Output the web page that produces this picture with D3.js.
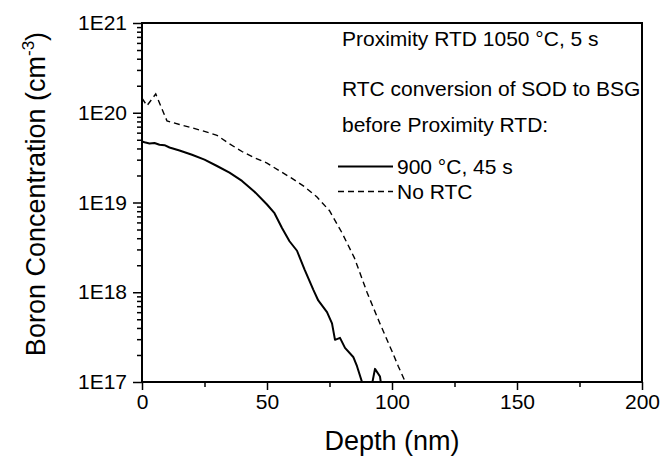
<!DOCTYPE html>
<html>
<head>
<meta charset="utf-8">
<script src="https://cdn.jsdelivr.net/npm/d3@7"></script>
<style>
  body { margin: 0; background: #fff; }
  text { font-family: "Liberation Sans", Arial, sans-serif; fill: #000; }
</style>
</head>
<body>
<div id="chart"></div>
<script>
// boron profiles after proximity RTD
const depthNoRTC = [0, 2, 5.5, 10, 15, 20, 25, 30, 35, 40, 45, 50, 55, 60, 65, 70, 75, 80, 85, 90, 95, 100, 102.5, 105, 106];
const concNoRTC = [1.45e20, 1.2e20, 1.62e20, 8.1e19, 7.4e19, 6.8e19, 6.2e19, 5.6e19, 4.5e19, 3.7e19, 3.15e19, 2.75e19, 2.25e19, 1.86e19, 1.5e19, 1.15e19, 8.1e18, 4.6e18, 2.4e18, 1.0e18, 4.6e17, 2.2e17, 1.5e17, 1.05e17, 9e16];

const depth900 = [0, 1, 3, 5, 7, 9, 11, 15, 20, 25, 30, 35, 40, 45, 50, 53, 56, 59, 62, 65, 68.5, 70.5, 74, 76, 77.2, 79.2, 81.2, 84.5, 86, 88, 89, 91.5, 93.2, 95.2, 96, 97];
const conc900 = [4.8e19, 4.7e19, 4.55e19, 4.6e19, 4.4e19, 4.35e19, 4.1e19, 3.8e19, 3.4e19, 3.0e19, 2.55e19, 2.15e19, 1.74e19, 1.32e19, 9.5e18, 7.6e18, 5.2e18, 3.7e18, 2.9e18, 1.8e18, 1.07e18, 8.1e17, 6.0e17, 4.5e17, 2.95e17, 3.1e17, 2.4e17, 1.9e17, 1.5e17, 1.0e17, 8e16, 8e16, 1.4e17, 1.15e17, 8e16, 8e16];

const xTicks = [0, 50, 100, 150, 200];
const xMinorTicks = [25, 75, 125, 175];
const yTicks = [1e17, 1e18, 1e19, 1e20, 1e21];

const width = 662,
  height = 457,
  plotLeft = 142, plotRight = 642, plotTop = 23, plotBottom = 382;

const svg = d3.select("#chart").append("svg")
  .attr("width", width)
  .attr("height", height);

const x = d3.scaleLinear().domain([0, 200]).range([plotLeft, plotRight]);
const y = d3.scaleLog().domain([1e17, 1e21]).range([plotBottom, plotTop]);

// minor log ticks 2..9 in every decade
const yMinorTicks = [];
yTicks.slice(0, -1).forEach(function (t) {
  for (let k = 2; k <= 9; k++) yMinorTicks.push(t * k);
});

svg.append("clipPath").attr("id", "plotclip")
  .append("rect")
  .attr("x", plotLeft).attr("y", plotTop)
  .attr("width", plotRight - plotLeft).attr("height", plotBottom - plotTop);

const line = d3.line()
  .x(d => x(d[0]))
  .y(d => y(d[1]));

const plot = svg.append("g").attr("clip-path", "url(#plotclip)");

plot.append("path")
  .datum(depthNoRTC.map((d, i) => [d, concNoRTC[i]]))
  .attr("d", line)
  .attr("fill", "none")
  .attr("stroke", "#000")
  .attr("stroke-width", 1.4)
  .attr("stroke-dasharray", "6,4");

plot.append("path")
  .datum(depth900.map((d, i) => [d, conc900[i]]))
  .attr("d", line)
  .attr("fill", "none")
  .attr("stroke", "#000")
  .attr("stroke-width", 2)
  .attr("stroke-linejoin", "round");

// frame
svg.append("rect")
  .attr("x", plotLeft).attr("y", plotTop)
  .attr("width", plotRight - plotLeft).attr("height", plotBottom - plotTop)
  .attr("fill", "none")
  .attr("stroke", "#000")
  .attr("stroke-width", 2);

// axes
svg.append("g")
  .attr("transform", `translate(0,${plotBottom})`)
  .call(d3.axisBottom(x).tickValues(xTicks).tickSize(8).tickPadding(4));
svg.append("g")
  .attr("transform", `translate(0,${plotBottom})`)
  .call(d3.axisBottom(x).tickValues(xMinorTicks).tickSize(5).tickFormat(""));

svg.append("g")
  .attr("transform", `translate(${plotLeft},0)`)
  .call(d3.axisLeft(y).tickValues(yTicks).tickSize(9).tickPadding(6)
    .tickFormat(d => "1E" + Math.round(Math.log10(d))));
svg.append("g")
  .attr("transform", `translate(${plotLeft},0)`)
  .call(d3.axisLeft(y).tickValues(yMinorTicks).tickSize(5).tickFormat(""));

svg.selectAll(".domain").remove();
svg.selectAll(".tick line").attr("stroke", "#000").attr("stroke-width", 1.5);
svg.selectAll(".tick text")
  .style("font-family", '"Liberation Sans", Arial, sans-serif')
  .style("font-size", "21px")
  .attr("fill", "#000");

// axis titles
svg.append("text")
  .attr("x", (plotLeft + plotRight) / 2).attr("y", 450)
  .attr("text-anchor", "middle")
  .style("font-size", "27px")
  .text("Depth (nm)");

const ytitle = svg.append("text")
  .attr("transform", "translate(45,194) rotate(-90)")
  .attr("text-anchor", "middle")
  .style("font-size", "27px");
ytitle.append("tspan").text("Boron Concentration (cm");
ytitle.append("tspan").attr("dy", -11).style("font-size", "17px").text("-3");
ytitle.append("tspan").attr("dy", 11).text(")");

// notes and legend
const notes = [
  ["Proximity RTD 1050 °C, 5 s", 46],
  ["RTC conversion of SOD to BSG", 96],
  ["before Proximity RTD:", 132]
];
notes.forEach(function (n) {
  svg.append("text")
    .attr("x", 342).attr("y", n[1])
    .style("font-size", "21px")
    .text(n[0]);
});

const legend = [
  ["900 °C, 45 s", 174, null, 2],
  ["No RTC", 199, "6,4", 1.4]
];
legend.forEach(function (l) {
  svg.append("line")
    .attr("x1", 338).attr("x2", 393)
    .attr("y1", l[1] - 7.5).attr("y2", l[1] - 7.5)
    .attr("stroke", "#000")
    .attr("stroke-width", l[3])
    .attr("stroke-dasharray", l[2]);
  svg.append("text")
    .attr("x", 397).attr("y", l[1])
    .style("font-size", "21px")
    .text(l[0]);
});
</script>
</body>
</html>
